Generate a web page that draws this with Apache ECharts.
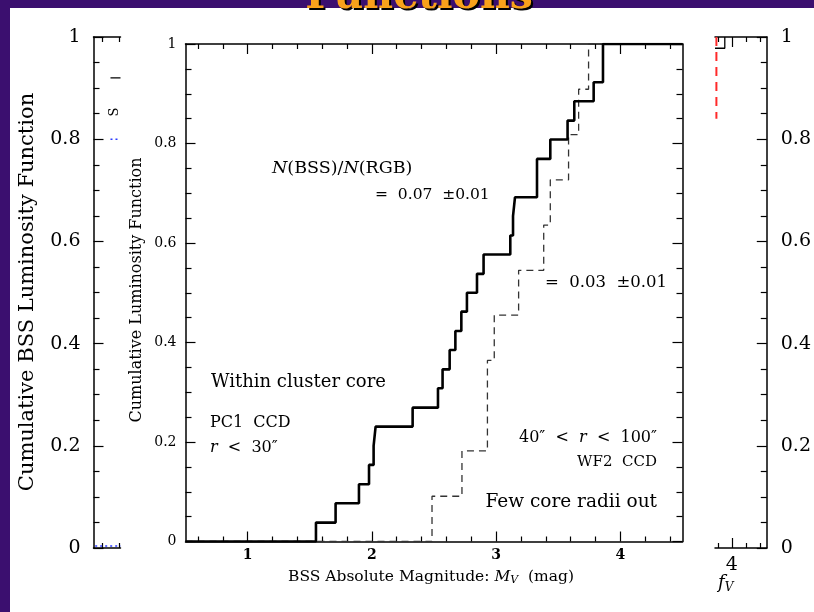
<!DOCTYPE html>
<html>
<head>
<meta charset="utf-8">
<script src="https://cdn.jsdelivr.net/npm/echarts@6/dist/echarts.min.js"></script>
<style>
  html, body { margin: 0; padding: 0; background: #ffffff; }
  #chart { width: 814px; height: 612px; }
</style>
</head>
<body>
<div id="chart"></div>
<script>
// Cumulative blue-straggler luminosity functions.
// Core field (PC1, r < 30"): magnitude at which each step occurs and the cumulative fraction reached there.
const coreMag = [1.550, 1.708, 1.896, 1.977, 2.014, 2.030, 2.328, 2.532, 2.569, 2.626, 2.672, 2.720,
                 2.765, 2.846, 2.899, 3.114, 3.136, 3.152, 3.329, 3.436, 3.575, 3.629, 3.785, 3.860];
const coreCum = [0.038, 0.077, 0.115, 0.154, 0.192, 0.231, 0.269, 0.308, 0.346, 0.385, 0.423, 0.462,
                 0.500, 0.538, 0.577, 0.615, 0.654, 0.692, 0.769, 0.808, 0.846, 0.885, 0.923, 1.000];
// Outer field (WF2, 40" < r < 100").
const outerMag = [2.484, 2.725, 2.930, 2.985, 3.181, 3.383, 3.436, 3.583, 3.664, 3.744];
const outerCum = [0.091, 0.182, 0.364, 0.455, 0.545, 0.636, 0.727, 0.818, 0.909, 1.000];

// Axis ranges and tick positions
const magRange = [0.5, 4.5];
const xMajorTicks = [1, 2, 3, 4];
const xMinorTicks = [0.6, 0.8, 1.2, 1.4, 1.6, 1.8, 2.2, 2.4, 2.6, 2.8, 3.2, 3.4, 3.6, 3.8, 4.2, 4.4];
const leftPanelRange = [0.5, 0.818];
const leftPanelTicks = [0.6, 0.8];
const rightPanelRange = [3.76, 4.5];
const rightMajorTicks = [4];
const rightMinorTicks = [3.8, 4.2, 4.4];

// Neighbouring panels (only their edges show)
const leftKeySolid = [[0.70, 0.92], [0.818, 0.92]];
const leftKeyDotted = [[0.70, 0.80], [0.818, 0.80]];
const leftBaseDotted = [[0.52, 0.004], [0.818, 0.004]];
const rightSolid = [[3.76, 0.978], [3.90, 1.0]];
const rightRedDashed = [[3.78, 1.0], [3.78, 0.84]];

const SERIF = "'DejaVu Serif', serif";
const PURPLE = '#3b0f6f';

function stepPoints(mags, cums) {
  const pts = [[magRange[0], 0]];
  mags.forEach((m, i) => pts.push([m, cums[i]]));
  pts.push([magRange[1], 1]);
  return pts;
}

function xAx(grid, range, pos, ticks, len, showLine, label) {
  return {
    gridIndex: grid, type: 'value', min: range[0], max: range[1], position: pos,
    axisLine: { show: showLine, onZero: false, lineStyle: { color: '#000', width: 1.5 } },
    axisTick: { show: true, inside: true, length: len, customValues: ticks,
                lineStyle: { color: '#000', width: 1.2 } },
    axisLabel: label ? Object.assign({ show: true, customValues: ticks }, label) : { show: false },
    splitLine: { show: false }
  };
}

function yAx(grid, pos, label) {
  return {
    gridIndex: grid, type: 'value', min: 0, max: 1, interval: 0.2, position: pos,
    axisLine: { show: true, onZero: false, lineStyle: { color: '#000', width: 1.5 } },
    axisTick: { show: true, inside: true, length: 10, lineStyle: { color: '#000', width: 1.2 } },
    minorTick: { show: true, splitNumber: 4, length: 6, lineStyle: { color: '#000', width: 1.2 } },
    axisLabel: label ? Object.assign({ show: true }, label) : { show: false },
    splitLine: { show: false }, minorSplitLine: { show: false }
  };
}

function italicRich(size) {
  return { it: { fontFamily: SERIF, fontSize: size, fontStyle: 'italic' } };
}

const chart = echarts.init(document.getElementById('chart'), null, { renderer: 'canvas' });

const option = {
  animation: false,
  backgroundColor: '#ffffff',
  grid: [
    { left: 185.5, top: 44, width: 497, height: 497.5 },
    { left: 93.5, top: 37, width: 27, height: 511 },
    { left: 715, top: 37, width: 62.5, height: 511 }
  ],
  xAxis: [
    xAx(0, magRange, 'bottom', xMajorTicks, 10, true,
        { margin: 7, color: '#000', fontFamily: SERIF, fontSize: 14, fontWeight: 'bold' }),
    xAx(0, magRange, 'bottom', xMinorTicks, 5, false),
    xAx(0, magRange, 'top', xMajorTicks, 10, true),
    xAx(0, magRange, 'top', xMinorTicks, 5, false),
    xAx(1, leftPanelRange, 'bottom', leftPanelTicks, 5, true),
    xAx(1, leftPanelRange, 'top', leftPanelTicks, 5, true),
    xAx(2, rightPanelRange, 'bottom', rightMajorTicks, 10, true,
        { margin: 8, color: '#000', fontFamily: SERIF, fontSize: 19 }),
    xAx(2, rightPanelRange, 'bottom', rightMinorTicks, 5, false),
    xAx(2, rightPanelRange, 'top', rightMajorTicks, 10, true),
    xAx(2, rightPanelRange, 'top', rightMinorTicks, 5, false)
  ],
  yAxis: [
    yAx(0, 'left', { margin: 9, color: '#000', fontFamily: SERIF, fontSize: 14 }),
    yAx(0, 'right'),
    yAx(1, 'left', { margin: 13, color: '#000', fontFamily: SERIF, fontSize: 19 }),
    yAx(2, 'right', { margin: 14, color: '#000', fontFamily: SERIF, fontSize: 19 })
  ],
  series: [
    {
      name: 'outer', type: 'line', xAxisIndex: 0, yAxisIndex: 0, step: 'end',
      showSymbol: false, symbol: 'none', z: 3,
      lineStyle: { color: '#333', width: 1.3, type: [7, 5] },
      data: stepPoints(outerMag, outerCum)
    },
    {
      name: 'core', type: 'line', xAxisIndex: 0, yAxisIndex: 0, step: 'end',
      showSymbol: false, symbol: 'none', z: 4,
      lineStyle: { color: '#000', width: 2.6 },
      data: stepPoints(coreMag, coreCum)
    },
    {
      type: 'line', xAxisIndex: 4, yAxisIndex: 2, showSymbol: false, symbol: 'none',
      lineStyle: { color: '#000', width: 1.3 }, data: leftKeySolid
    },
    {
      type: 'line', xAxisIndex: 4, yAxisIndex: 2, showSymbol: false, symbol: 'none',
      lineStyle: { color: '#2b3bff', width: 1.4, type: [2, 3] }, data: leftKeyDotted
    },
    {
      type: 'line', xAxisIndex: 4, yAxisIndex: 2, showSymbol: false, symbol: 'none',
      lineStyle: { color: '#2b3bff', width: 1.6, type: [2, 3] }, data: leftBaseDotted
    },
    {
      type: 'line', xAxisIndex: 6, yAxisIndex: 3, showSymbol: false, symbol: 'none', step: 'end',
      lineStyle: { color: '#000', width: 1.3 }, data: rightSolid
    },
    {
      type: 'line', xAxisIndex: 6, yAxisIndex: 3, showSymbol: false, symbol: 'none',
      lineStyle: { color: '#ff2a2a', width: 2, type: [9, 6] }, data: rightRedDashed
    }
  ],
  graphic: [
    // slide frame
    { type: 'rect', shape: { x: 0, y: 0, width: 814, height: 8 }, style: { fill: PURPLE }, z: 50 },
    { type: 'rect', shape: { x: 0, y: 0, width: 10, height: 612 }, style: { fill: PURPLE }, z: 50 },
    // slide heading
    { type: 'text', x: 421, y: -1, z: 60,
      style: { text: 'Functions', fill: '#000', font: "bold 41px 'DejaVu Serif'", align: 'center', verticalAlign: 'middle' } },
    { type: 'text', x: 419, y: -3, z: 61,
      style: { text: 'Functions', fill: '#f9a11b', font: "bold 41px 'DejaVu Serif'", align: 'center', verticalAlign: 'middle' } },

    // axis titles
    { type: 'text', x: 27.5, y: 292, rotation: Math.PI / 2, z: 20,
      style: { text: 'Cumulative BSS Luminosity Function', fill: '#000', font: "21px 'DejaVu Serif'", align: 'center', verticalAlign: 'middle' } },
    { type: 'text', x: 137, y: 290, rotation: Math.PI / 2, z: 20,
      style: { text: 'Cumulative Luminosity Function', fill: '#000', font: "16px 'DejaVu Serif'", align: 'center', verticalAlign: 'middle' } },
    { type: 'text', x: 288, y: 577, z: 20,
      style: {
        text: 'BSS Absolute Magnitude: {it|M}{sub|V}  (mag)', fill: '#000',
        font: "15.5px 'DejaVu Serif'", align: 'left', verticalAlign: 'middle', lineHeight: 18,
        rich: {
          it: { fontFamily: SERIF, fontSize: 15.5, fontStyle: 'italic', lineHeight: 18 },
          sub: { fontFamily: SERIF, fontSize: 11, fontStyle: 'italic', lineHeight: 11, verticalAlign: 'bottom' }
        }
      } },
    { type: 'text', x: 718, y: 583, z: 20,
      style: {
        text: '{it|f}{sub|V}', fill: '#000', align: 'left', verticalAlign: 'middle',
        rich: {
          it: { fontFamily: SERIF, fontSize: 18, fontStyle: 'italic', lineHeight: 22 },
          sub: { fontFamily: SERIF, fontSize: 12, fontStyle: 'italic', lineHeight: 12, verticalAlign: 'bottom' }
        }
      } },
    { type: 'text', x: 115, y: 112, rotation: Math.PI / 2, z: 20,
      style: { text: 'S', fill: '#000', font: "13px 'DejaVu Serif'", align: 'center', verticalAlign: 'middle' } },

    // annotations inside the main panel
    { type: 'text', x: 272, y: 168, z: 20,
      style: {
        text: '{it|N}(BSS)/{it|N}(RGB)', fill: '#000', font: "17.5px 'DejaVu Serif'",
        align: 'left', verticalAlign: 'middle', rich: italicRich(17.5)
      } },
    { type: 'text', x: 375, y: 195, z: 20,
      style: { text: '=  0.07  ±0.01', fill: '#000', font: "15.5px 'DejaVu Serif'", align: 'left', verticalAlign: 'middle' } },
    { type: 'text', x: 545, y: 283, z: 20,
      style: { text: '=  0.03  ±0.01', fill: '#000', font: "16.5px 'DejaVu Serif'", align: 'left', verticalAlign: 'middle' } },
    { type: 'text', x: 211, y: 382, z: 20,
      style: { text: 'Within cluster core', fill: '#000', font: "18px 'DejaVu Serif'", align: 'left', verticalAlign: 'middle' } },
    { type: 'text', x: 210, y: 423, z: 20,
      style: { text: 'PC1  CCD', fill: '#000', font: "16px 'DejaVu Serif'", align: 'left', verticalAlign: 'middle' } },
    { type: 'text', x: 210, y: 448, z: 20,
      style: {
        text: '{it|r}  <  30″', fill: '#000', font: "16px 'DejaVu Serif'", align: 'left', verticalAlign: 'middle',
        rich: italicRich(16)
      } },
    { type: 'text', x: 657, y: 438, z: 20,
      style: {
        text: '40″  <  {it|r}  <  100″', fill: '#000', font: "16px 'DejaVu Serif'", align: 'right', verticalAlign: 'middle',
        rich: italicRich(16)
      } },
    { type: 'text', x: 657, y: 462, z: 20,
      style: { text: 'WF2  CCD', fill: '#000', font: "15px 'DejaVu Serif'", align: 'right', verticalAlign: 'middle' } },
    { type: 'text', x: 657, y: 502, z: 20,
      style: { text: 'Few core radii out', fill: '#000', font: "18.5px 'DejaVu Serif'", align: 'right', verticalAlign: 'middle' } }
  ]
};

chart.setOption(option);
</script>
</body>
</html>
